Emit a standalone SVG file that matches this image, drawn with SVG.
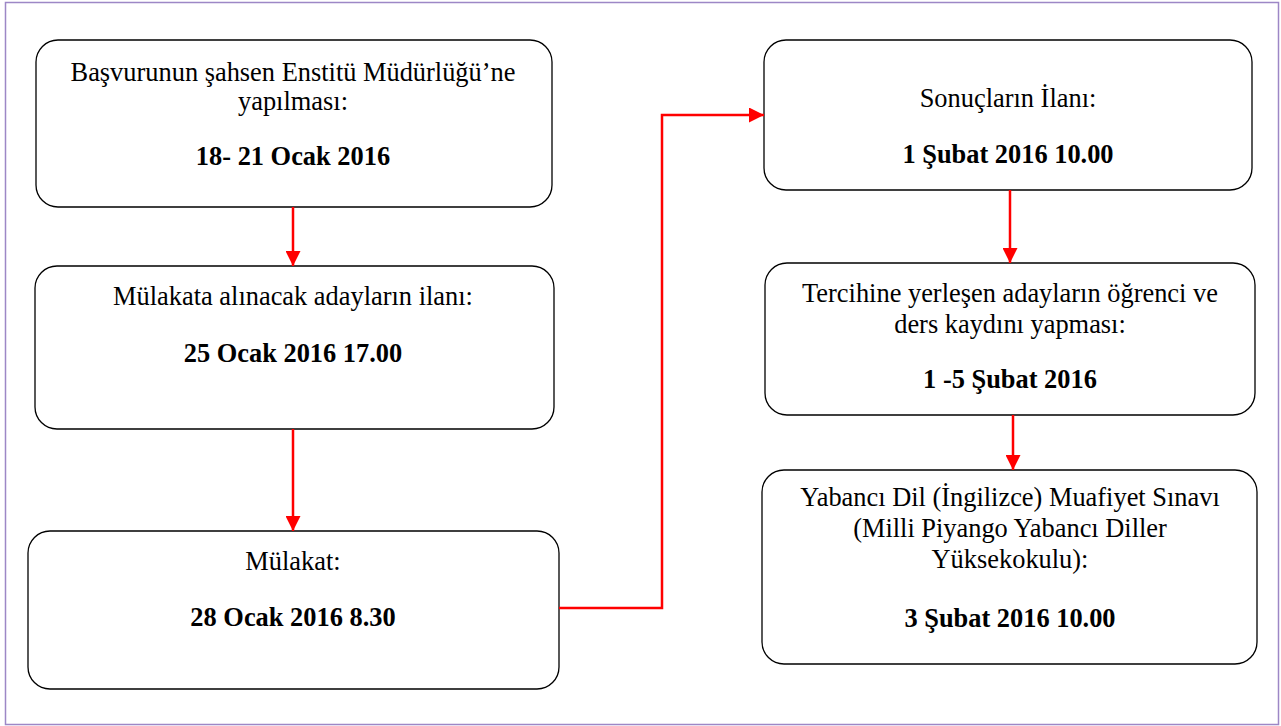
<svg xmlns="http://www.w3.org/2000/svg" width="1281" height="726" viewBox="0 0 1281 726">
<style>
.box{fill:#fff;stroke:#000;stroke-width:1.3}
.t{font-family:"Liberation Serif","Times New Roman",serif;font-size:26.4px;fill:#000;text-anchor:middle}
.b{font-weight:bold}
.c{fill:none;stroke:#ff0000;stroke-width:2.5}
</style>
<defs>
<marker id="ah" viewBox="0 0 10 10" refX="10" refY="5" markerWidth="6" markerHeight="6" orient="auto" markerUnits="strokeWidth">
<path d="M0,0 L10,5 L0,10 z" fill="#ff0000"/>
</marker>
</defs>
<rect x="5.5" y="2.5" width="1273" height="722" fill="#fff" stroke="#9d87c6" stroke-width="1.5"/>
<g id="n1"><rect class="box" x="36" y="40" width="516" height="167" rx="22"/>
<text class="t" x="293" y="81">Başvurunun şahsen Enstitü Müdürlüğü’ne</text>
<text class="t" x="293" y="110">yapılması:</text>
<text class="t b" x="293" y="165">18- 21 Ocak 2016</text></g>
<g id="n2"><rect class="box" x="35" y="266" width="519" height="163" rx="22"/>
<text class="t" x="293" y="305">Mülakata alınacak adayların ilanı:</text>
<text class="t b" x="293" y="362">25 Ocak 2016 17.00</text></g>
<g id="n3"><rect class="box" x="28" y="531" width="531" height="158" rx="22"/>
<text class="t" x="293" y="570">Mülakat:</text>
<text class="t b" x="293" y="626">28 Ocak 2016 8.30</text></g>
<g id="n4"><rect class="box" x="764" y="40" width="488" height="150" rx="22"/>
<text class="t" x="1008" y="107">Sonuçların İlanı:</text>
<text class="t b" x="1008" y="163">1 Şubat 2016 10.00</text></g>
<g id="n5"><rect class="box" x="765" y="263" width="490" height="152" rx="22"/>
<text class="t" x="1010" y="302">Tercihine yerleşen adayların öğrenci ve</text>
<text class="t" x="1010" y="333">ders kaydını yapması:</text>
<text class="t b" x="1010" y="388">1 -5 Şubat 2016</text></g>
<g id="n6"><rect class="box" x="762" y="470" width="495" height="194" rx="22"/>
<text class="t" x="1010" y="506">Yabancı Dil (İngilizce) Muafiyet Sınavı</text>
<text class="t" x="1010" y="537">(Milli Piyango Yabancı Diller</text>
<text class="t" x="1010" y="568">Yüksekokulu):</text>
<text class="t b" x="1010" y="627">3 Şubat 2016 10.00</text></g>
<g id="connectors">
<path class="c" d="M293,207 L293,266" marker-end="url(#ah)"/>
<path class="c" d="M293,429 L293,531" marker-end="url(#ah)"/>
<path class="c" d="M559,608 L662,608 L662,115 L764,115" marker-end="url(#ah)"/>
<path class="c" d="M1010,190 L1010,263" marker-end="url(#ah)"/>
<path class="c" d="M1013,415 L1013,470" marker-end="url(#ah)"/>
</g>
</svg>
